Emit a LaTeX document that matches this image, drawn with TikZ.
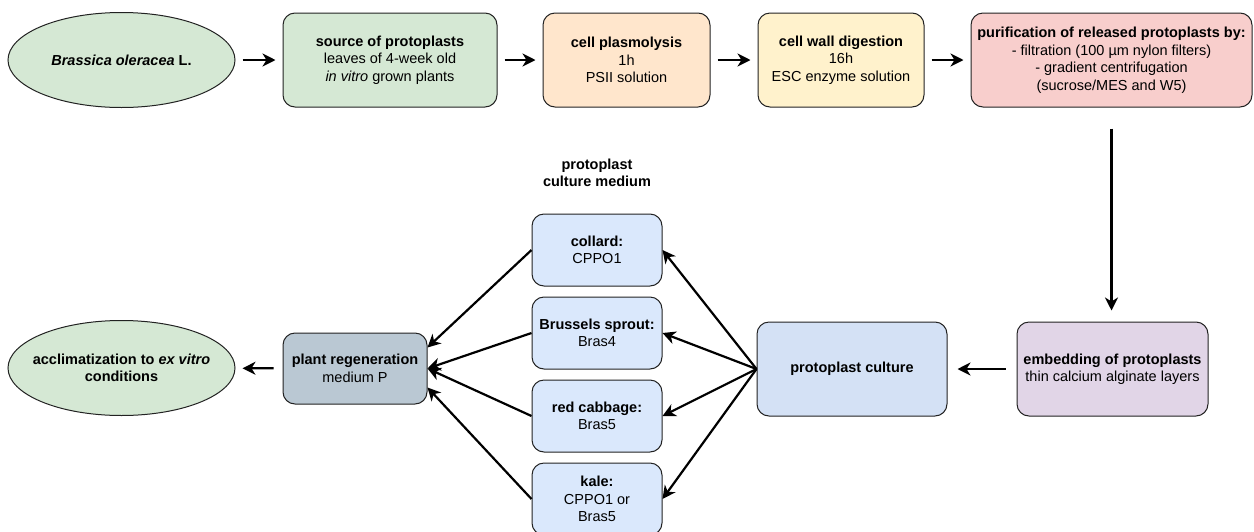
\documentclass[tikz,border=0pt]{standalone}
\usepackage{fontspec}
\setmainfont{Liberation Sans}
\usetikzlibrary{arrows.meta,shapes.geometric}
\definecolor{fgreen}{HTML}{D5E8D4}
\definecolor{forange}{HTML}{FFE6CC}
\definecolor{fyellow}{HTML}{FFF2CC}
\definecolor{fred}{HTML}{F8CECC}
\definecolor{fpurple}{HTML}{E1D5E7}
\definecolor{fblue}{HTML}{DAE8FC}
\definecolor{fbluedark}{HTML}{D4E1F5}
\definecolor{fgray}{HTML}{BAC8D3}
\definecolor{edgecol}{HTML}{222222}
\tikzset{
  txt/.style={font=\fontsize{14.5}{17.5}\selectfont, align=center},
  box/.style={txt, draw=edgecol, line width=1pt, rounded corners=12pt, inner sep=0pt},
  oval/.style={txt, draw=edgecol, line width=1pt, ellipse, inner sep=0pt},
  medbox/.style={box, fill=fblue, minimum width=130pt, minimum height=72pt},
  arr/.style={draw=black, line width=2.2pt, -{Stealth[length=13pt,width=13pt,inset=4pt]}},
}
\begin{document}
\begin{tikzpicture}[x=1pt,y=-1pt]
\useasboundingbox (0,0) rectangle (1254,531);
% top row
\node[oval, fill=fgreen, minimum width=227pt, minimum height=95pt] (bras) at (121.5,60) {};
\node[txt] (brastext) at (bras) {\textbf{\textit{Brassica oleracea} L.}};
\node[box, fill=fgreen, minimum width=214pt, minimum height=94pt] (src) at (390,60) {\textbf{source of protoplasts}\\leaves of 4-week old\\\textit{in vitro} grown plants};
\node[box, fill=forange, minimum width=167pt, minimum height=94pt] (plas) at (626.5,60) {\textbf{cell plasmolysis}\\1h\\PSII solution};
\node[box, fill=fyellow, minimum width=166pt, minimum height=94pt] (dig) at (841,60) {\textbf{cell wall digestion}\\16h\\ESC enzyme solution};
\node[box, fill=fred, minimum width=281pt, minimum height=94pt] (pur) at (1111.5,60) {\textbf{purification of released protoplasts by:}\\- filtration (100 µm nylon filters)\\- gradient centrifugation\\(sucrose/MES and W5)};
% second row
\node[box, fill=fpurple, minimum width=191pt, minimum height=94pt] (emb) at (1112.5,369) {\textbf{embedding of protoplasts}\\thin calcium alginate layers};
\node[box, fill=fbluedark, minimum width=190pt, minimum height=94pt] (cult) at (852,369) {\textbf{protoplast culture}};
\node[txt] (title) at (597,173) {\textbf{protoplast}\\\textbf{culture medium}};
\node[medbox] (collard) at (597,250) {\textbf{collard:}\\CPPO1};
\node[medbox] (brus) at (597,333) {\textbf{Brussels sprout:}\\Bras4};
\node[medbox] (red) at (597,416) {\textbf{red cabbage:}\\Bras5};
\node[medbox] (kale) at (597,499) {\textbf{kale:}\\CPPO1 or\\Bras5};
\node[box, fill=fgray, minimum width=144pt, minimum height=71pt] (regen) at (355,368.5) {\textbf{plant regeneration}\\medium P};
\node[oval, fill=fgreen, minimum width=227pt, minimum height=95pt] (acc) at (121.5,368) {};
\node[txt] (acctext) at (acc) {\textbf{acclimatization to \textit{ex vitro}}\\\textbf{conditions}};
% connectors
\draw[arr, shorten <=7pt, shorten >=7pt] (bras) -- (src);
\draw[arr, shorten <=7pt, shorten >=7pt] (src) -- (plas);
\draw[arr, shorten <=7pt, shorten >=7pt] (plas) -- (dig);
\draw[arr, shorten <=7pt, shorten >=7pt] (dig) -- (pur);
\draw[arr, shorten <=21pt, shorten >=11pt] (pur.south) -- (pur.south |- emb.north);
\draw[arr, shorten <=11pt, shorten >=10pt] (emb) -- (cult);
\draw[arr] (cult.west) -- (collard.east);
\draw[arr] (cult.west) -- (brus.east);
\draw[arr] (cult.west) -- (red.east);
\draw[arr] (cult.west) -- (kale.east);
\draw[arr] (collard.west) -- ([yshift=21pt]regen.east);
\draw[arr] (brus.west) -- (regen.east);
\draw[arr] (red.west) -- (regen.east);
\draw[arr] (kale.west) -- ([yshift=-19pt]regen.east);
\draw[arr, shorten <=9pt, shorten >=7pt] (regen) -- (acc);
\end{tikzpicture}
\end{document}
